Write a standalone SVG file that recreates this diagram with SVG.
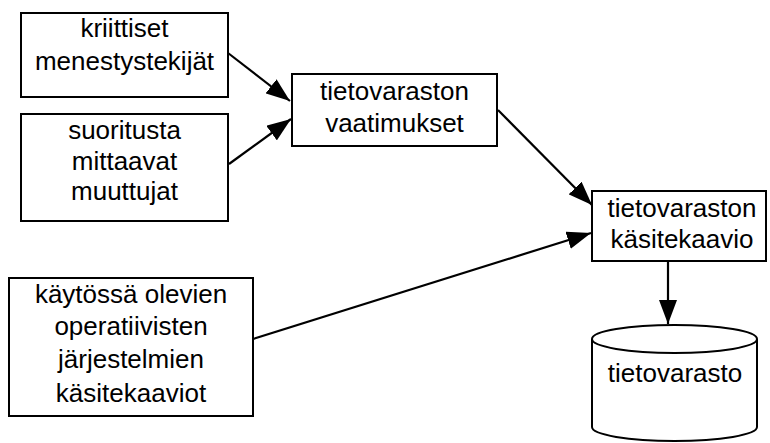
<svg xmlns="http://www.w3.org/2000/svg" width="770" height="443" viewBox="0 0 770 443">
  <style>
    .box { fill: #ffffff; stroke: #000000; stroke-width: 2; }
    .lbl { font-family: "Liberation Sans", Arial, Helvetica, sans-serif; font-size: 26px; fill: #000000; text-anchor: middle; }
    .edge { stroke: #000000; stroke-width: 2.2; fill: none; marker-end: url(#arrow); }
  </style>
  <defs>
    <marker id="arrow" viewBox="0 0 24 18" refX="24" refY="9" markerWidth="24" markerHeight="18" markerUnits="userSpaceOnUse" orient="auto">
      <path d="M0,0 L24,9 L0,18 Z" fill="#000000"/>
    </marker>
  </defs>
  <rect width="770" height="443" fill="#ffffff"/>

  <g id="connectors">
    <line class="edge" x1="228" y1="53" x2="290" y2="101"/>
    <line class="edge" x1="229" y1="164" x2="291" y2="119"/>
    <line class="edge" x1="498" y1="110" x2="592" y2="205"/>
    <line class="edge" x1="253" y1="339" x2="591" y2="233"/>
    <line class="edge" x1="668" y1="261" x2="668" y2="324"/>
  </g>

  <g id="kriittiset-menestystekijat">
    <rect class="box" x="21" y="13" width="207" height="84"/>
    <text class="lbl" x="124.5" y="37">kriittiset</text>
    <text class="lbl" x="124.5" y="70">menestystekijät</text>
  </g>

  <g id="suoritusta-mittaavat-muuttujat">
    <rect class="box" x="21" y="114" width="207" height="107"/>
    <text class="lbl" x="124.5" y="139">suoritusta</text>
    <text class="lbl" x="124.5" y="170">mittaavat</text>
    <text class="lbl" x="124.5" y="200">muuttujat</text>
  </g>

  <g id="tietovaraston-vaatimukset">
    <rect class="box" x="292" y="74" width="205" height="72"/>
    <text class="lbl" x="394.5" y="100">tietovaraston</text>
    <text class="lbl" x="394.5" y="132">vaatimukset</text>
  </g>

  <g id="tietovaraston-kasitekaavio">
    <rect class="box" x="592" y="191" width="174" height="70"/>
    <text class="lbl" x="682" y="217">tietovaraston</text>
    <text class="lbl" x="682" y="248">käsitekaavio</text>
  </g>

  <g id="operatiiviset-kasitekaaviot">
    <rect class="box" x="9" y="278" width="244" height="138"/>
    <text class="lbl" x="131" y="303">käytössä olevien</text>
    <text class="lbl" x="131" y="335">operatiivisten</text>
    <text class="lbl" x="131" y="368">järjestelmien</text>
    <text class="lbl" x="131" y="402">käsitekaaviot</text>
  </g>

  <g id="tietovarasto">
    <path class="box" d="M592,339 L592,427 A82.5,14 0 0 0 757,427 L757,339"/>
    <ellipse class="box" cx="674.5" cy="339" rx="82.5" ry="14"/>
    <text class="lbl" x="675" y="382">tietovarasto</text>
  </g>
</svg>
